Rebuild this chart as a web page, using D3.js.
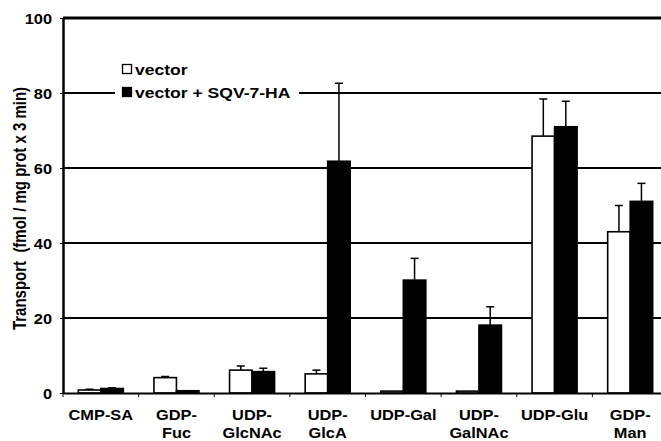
<!DOCTYPE html>
<html><head><meta charset="utf-8">
<script src="https://cdn.jsdelivr.net/npm/d3@7"></script>
<style>body{margin:0;background:#fff}svg{display:block}text{font-family:"Liberation Sans",Arial,Helvetica,sans-serif;font-weight:bold;fill:#000}</style>
</head><body><svg id="c" width="661" height="441"></svg>
<script>
const categories = ["CMP-SA","GDP-Fuc","UDP-GlcNAc","UDP-GlcA","UDP-Gal","UDP-GalNAc","UDP-Glu","GDP-Man"];
const categoryLabels = [["CMP-SA"],["GDP-","Fuc"],["UDP-","GlcNAc"],["UDP-","GlcA"],["UDP-Gal"],["UDP-","GalNAc"],["UDP-Glu"],["GDP-","Man"]];
const seriesNames = ["vector","vector + SQV-7-HA"];
const vectorValues = [0.8, 4.1, 6.1, 5.1, 0.5, 0.5, 68.5, 43.0];
const vectorErrors = [0.2, 0.3, 1.1, 1.0, 0, 0, 9.9, 7.0];
const sqvValues = [1.2, 0.6, 5.7, 61.8, 30.1, 18.1, 71.0, 51.1];
const sqvErrors = [0.2, 0, 0.9, 20.8, 5.8, 4.9, 6.8, 4.8];
const yTicks = [0, 20, 40, 60, 80, 100];
const yTitle = "Transport  (fmol / mg prot x 3 min)";

const SX = 1.17;
const svg = d3.select("#c");
const L = 63, T = 18, B = 393, R = 668;
const x0 = d3.scaleBand().domain(categories).range([L, R]).padding(0);
const x1 = d3.scaleBand().domain(seriesNames).range([0, x0.bandwidth()]).paddingInner(0).paddingOuter(0.68);
const y = d3.scaleLinear().domain([0, 100]).range([B, T]);

// gridlines
svg.append("g").selectAll("line").data(yTicks.filter(d => d > 0 && d < 100)).join("line")
  .attr("x1", L).attr("x2", 661).attr("y1", d => y(d)).attr("y2", d => y(d))
  .attr("stroke", "#000").attr("stroke-width", 2);
svg.append("line").attr("x1", L).attr("x2", 661).attr("y1", y(100)).attr("y2", y(100))
  .attr("stroke", "#000").attr("stroke-width", 3);

// legend background
svg.append("rect").attr("x", 115).attr("y", 58).attr("width", 184).attr("height", 44).attr("fill", "#fff");

const data = categories.map((c, i) => ({c, vals: [
  {s: seriesNames[0], v: vectorValues[i], e: vectorErrors[i]},
  {s: seriesNames[1], v: sqvValues[i], e: sqvErrors[i]}]}));

const g = svg.append("g").selectAll("g").data(data).join("g")
  .attr("transform", d => `translate(${x0(d.c)},0)`);
// error bars
g.selectAll("g.err").data(d => d.vals.filter(v => v.e > 0)).join("g").attr("class","err").each(function(d){
  const cx = x1(d.s) + x1.bandwidth()/2;
  const s = d3.select(this);
  s.append("line").attr("x1", cx).attr("x2", cx).attr("y1", y(d.v)).attr("y2", y(d.v + d.e)).attr("stroke","#000").attr("stroke-width",1.5);
  s.append("line").attr("x1", cx-4).attr("x2", cx+4).attr("y1", y(d.v + d.e)).attr("y2", y(d.v + d.e)).attr("stroke","#000").attr("stroke-width",1.5);
});
g.selectAll("rect").data(d => d.vals).join("rect")
  .attr("x", d => x1(d.s)).attr("width", x1.bandwidth())
  .attr("y", d => y(d.v)).attr("height", d => y(0) - y(d.v))
  .attr("fill", (d, i) => i === 0 ? "#fff" : "#000")
  .attr("stroke", "#000").attr("stroke-width", 1.6);

// axes
const yAxis = svg.append("g").attr("transform", `translate(${L},0)`)
  .call(d3.axisLeft(y).tickValues(yTicks).tickSize(3).tickSizeOuter(0));
yAxis.select(".domain").attr("stroke-width", 2.5);
yAxis.selectAll("line").attr("stroke-width", 1);
yAxis.selectAll("text").attr("x", -11 / SX).attr("dy", "0.36em").attr("transform", `scale(${SX},1)`)
  .style("font-size", "14px").style("font-family", null);

const xAxis = svg.append("g").attr("transform", `translate(0,${B})`)
  .call(d3.axisBottom(x0).tickValues([]).tickSizeOuter(0));
xAxis.select(".domain").attr("stroke-width", 2);
xAxis.selectAll(".bt").data(d3.range(categories.length + 1)).join("line")
  .attr("x1", i => L + i * x0.bandwidth()).attr("x2", i => L + i * x0.bandwidth())
  .attr("y1", 0).attr("y2", 4).attr("stroke", "#000").attr("stroke-width", 1);

// category labels
const cl = svg.append("g").selectAll("text").data(categories).join("text")
  .attr("transform", d => `translate(${x0(d) + x0.bandwidth()/2},420) scale(${SX},1)`)
  .attr("text-anchor", "middle").style("font-size", "14px");
cl.selectAll("tspan").data((d, i) => categoryLabels[i]).join("tspan")
  .attr("x", 0).attr("y", (d, j) => j * 18).text(d => d);

// y title
svg.append("text").attr("transform", `translate(25.5,208.5) scale(${SX},1) rotate(-90)`)
  .attr("text-anchor", "middle").style("font-size", "15px").style("white-space", "pre").text(yTitle);

// legend
const leg = svg.append("g");
const legY = [69, 92];
leg.selectAll("rect").data(seriesNames).join("rect")
  .attr("x", 122.5).attr("y", (d, i) => legY[i] - 4.5).attr("width", 9).attr("height", 9)
  .attr("fill", (d, i) => i === 0 ? "#fff" : "#000").attr("stroke", "#000").attr("stroke-width", 1.3);
leg.selectAll("text").data(seriesNames).join("text")
  .attr("transform", (d, i) => `translate(135,${legY[i] + 5.5}) scale(${SX},1)`)
  .style("font-size", "15px").text(d => d);
</script></body></html>
